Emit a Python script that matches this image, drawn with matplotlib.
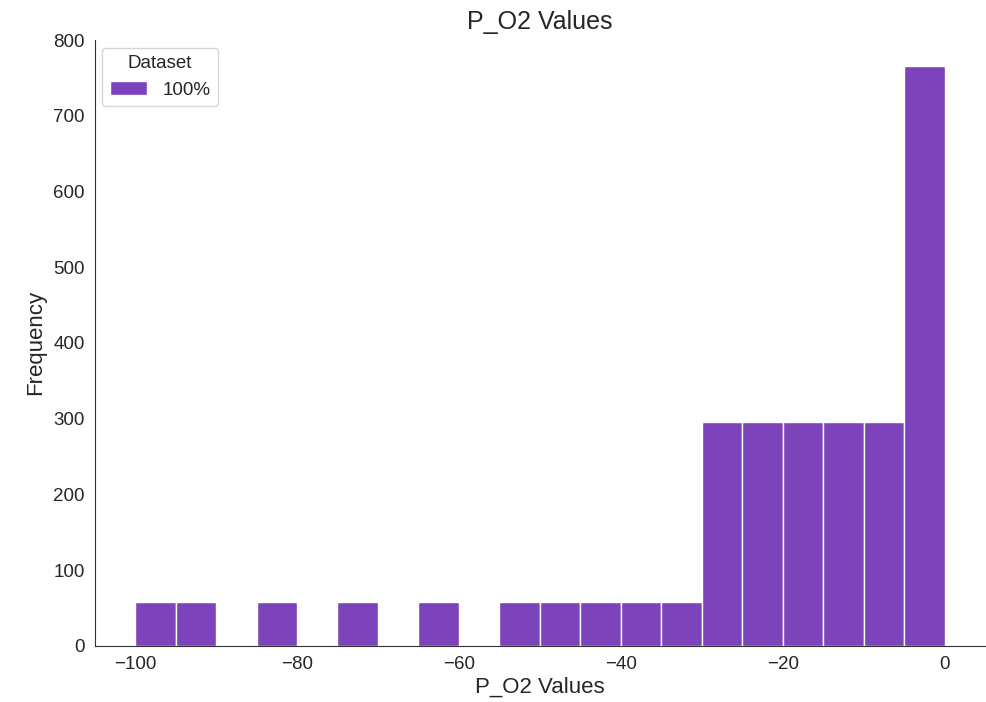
import numpy as np
import matplotlib
matplotlib.use("Agg")
import matplotlib.pyplot as plt
import seaborn as sns

sns.set_style("white")
plt.rcParams['font.family'] = ['Liberation Sans', 'DejaVu Sans']

# Histogram bins (width 5) and counts
bin_edges = [-100, -95, -90, -85, -80, -75, -70, -65, -60, -55, -50,
             -45, -40, -35, -30, -25, -20, -15, -10, -5, 0]
counts = [58, 58, 0, 58, 0, 58, 0, 58, 0, 58, 58,
          58, 58, 58, 295, 295, 295, 295, 295, 766]
series_label = "100%"
bar_color = "#7d43ba"

fig = plt.figure(figsize=(9.86, 7.02), dpi=100)
ax = fig.add_axes([0.096, 0.08, 0.903, 0.863])

left = np.array(bin_edges[:-1])
widths = np.diff(bin_edges)
ax.bar(left, counts, width=widths, align='edge', color=bar_color,
       edgecolor='white', linewidth=1, label=series_label)

ax.set_xlim(-105, 5)
ax.set_ylim(0, 800)
ax.set_xticks([-100, -80, -60, -40, -20, 0])
ax.tick_params(labelsize=13.5)
ax.set_title("P_O2 Values", fontsize=18, pad=8)
ax.set_xlabel("P_O2 Values", fontsize=16, labelpad=3)
ax.set_ylabel("Frequency", fontsize=16, labelpad=5)
sns.despine(ax=ax)
for s in ['left', 'bottom']:
    ax.spines[s].set_color('#333333')

ax.legend(title="Dataset", loc='upper left', fontsize=13.5, title_fontsize=13.5,
          borderaxespad=0.4)

fig.savefig("out.png", dpi=100)
